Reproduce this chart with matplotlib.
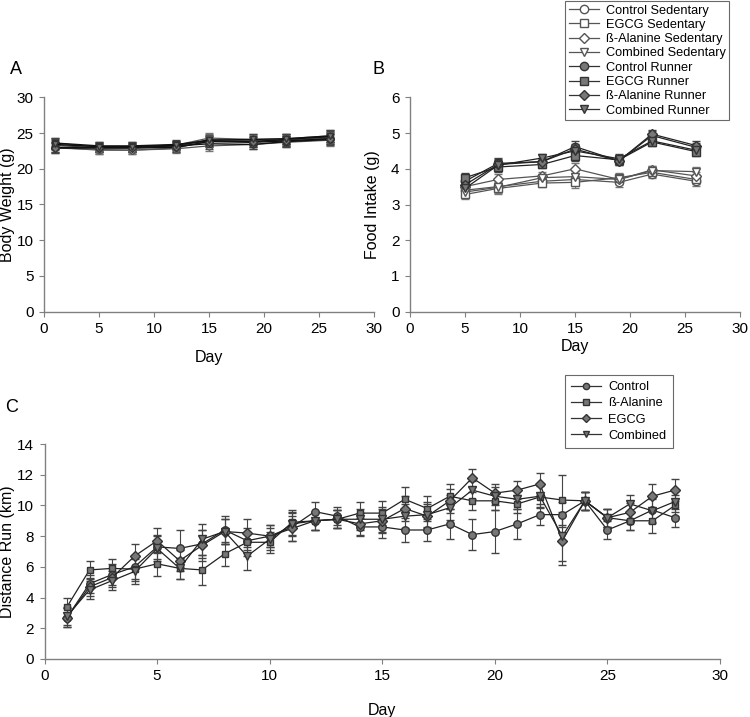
import numpy as np
import matplotlib.pyplot as plt
from matplotlib.lines import Line2D

plt.rcParams['font.family'] = ['Liberation Sans', 'DejaVu Sans']

# ---- Panel A: body weight ----
days_ab = [1, 5, 8, 12, 15, 19, 22, 26]
bw_names = ['Control Sedentary', 'EGCG Sedentary', 'ß-Alanine Sedentary', 'Combined Sedentary',
            'Control Runner', 'EGCG Runner', 'ß-Alanine Runner', 'Combined Runner']
bw_ctrl_sed = [23.0, 22.6, 22.6, 22.8, 23.2, 23.4, 23.7, 24.0]
bw_egcg_sed = [23.6, 23.0, 23.0, 23.3, 24.3, 24.1, 24.2, 24.6]
bw_ala_sed = [22.9, 22.7, 22.6, 22.9, 23.9, 23.9, 23.9, 24.3]
bw_comb_sed = [23.3, 22.9, 22.9, 23.1, 24.1, 24.0, 24.0, 24.4]
bw_ctrl_run = [23.0, 23.0, 23.0, 23.2, 23.5, 23.4, 23.8, 24.1]
bw_egcg_run = [23.6, 23.2, 23.2, 23.4, 23.9, 23.8, 24.1, 24.5]
bw_ala_run = [22.9, 22.9, 22.9, 23.0, 23.8, 23.7, 23.9, 24.2]
bw_comb_run = [23.4, 23.1, 23.1, 23.3, 24.0, 24.1, 24.2, 24.6]
bw_err = [0.7, 0.6, 0.6, 0.6, 0.7, 0.7, 0.7, 0.8]

# ---- Panel B: food intake ----
days_b = [5, 8, 12, 15, 19, 22, 26]
fi_ctrl_sed = [3.40, 3.50, 3.65, 3.70, 3.62, 3.85, 3.65]
fi_egcg_sed = [3.28, 3.45, 3.60, 3.62, 3.75, 3.90, 3.70]
fi_ala_sed = [3.50, 3.70, 3.80, 4.00, 3.70, 3.97, 3.80]
fi_comb_sed = [3.35, 3.48, 3.75, 3.78, 3.70, 3.95, 3.92]
fi_ctrl_run = [3.65, 4.15, 4.20, 4.62, 4.22, 4.93, 4.60]
fi_egcg_run = [3.75, 4.05, 4.12, 4.37, 4.25, 4.75, 4.48]
fi_ala_run = [3.55, 4.12, 4.20, 4.55, 4.22, 4.97, 4.65]
fi_comb_run = [3.45, 4.10, 4.30, 4.50, 4.28, 4.78, 4.52]
fi_err = [0.12, 0.15, 0.10, 0.15, 0.12, 0.12, 0.12]

# ---- Panel C: distance run ----
days_c = list(range(1, 29))
run_names = ['Control', 'ß-Alanine', 'EGCG', 'Combined']
run_ctrl = [2.7, 4.9, 5.5, 6.0, 7.3, 7.2, 7.5, 8.4, 7.7, 8.0, 8.6, 9.6, 9.3, 8.6,
            8.6, 8.4, 8.4, 8.8, 8.1, 8.3, 8.8, 9.4, 9.4, 10.3, 8.4, 9.0, 9.7, 9.2]
run_ala = [3.4, 5.8, 5.9, 5.85, 6.2, 5.9, 5.8, 6.85, 7.6, 7.6, 8.9, 9.0, 9.1, 9.5,
           9.5, 10.4, 9.8, 10.6, 10.3, 10.3, 10.1, 10.55, 10.35, 10.3, 9.2, 9.0, 9.0, 10.0]
run_egcg = [2.7, 4.7, 5.3, 6.7, 7.7, 6.4, 7.4, 8.3, 8.2, 8.0, 8.5, 9.0, 9.1, 8.8,
            9.0, 9.8, 9.3, 10.3, 11.8, 10.8, 11.0, 11.4, 7.7, 10.3, 9.2, 9.55, 10.6, 11.0]
run_comb = [2.8, 4.5, 5.1, 5.7, 7.2, 5.9, 7.8, 8.3, 6.7, 7.8, 8.8, 9.0, 9.1, 9.1,
            9.1, 9.3, 9.4, 9.85, 11.0, 10.6, 10.4, 10.6, 8.0, 10.3, 9.2, 10.1, 9.65, 10.25]
run_err_ctrl = [0.6, 0.6, 0.7, 0.8, 0.8, 1.2, 0.9, 0.9, 0.6, 0.7, 0.9, 0.6, 0.6, 0.6,
                0.7, 0.8, 0.7, 1.0, 1.0, 1.4, 1.0, 0.7, 0.8, 0.6, 0.6, 0.6, 0.8, 0.6]
run_err_other = [0.6, 0.6, 0.6, 0.8, 0.8, 0.7, 1.0, 0.8, 0.9, 0.7, 0.8, 0.6, 0.6, 0.7,
                 0.8, 0.8, 0.8, 0.8, 0.6, 0.6, 0.6, 0.7, 1.6, 0.6, 0.6, 0.6, 0.8, 0.7]

W, H = 750, 717
fig = plt.figure(figsize=(7.5, 7.17), dpi=100)


def ax_rect(x0, x1, ytop, ybot):
    return [x0 / W, 1 - ybot / H, (x1 - x0) / W, (ybot - ytop) / H]


def style(ax):
    for s in ['top', 'right']:
        ax.spines[s].set_visible(False)
    for s in ['left', 'bottom']:
        ax.spines[s].set_color('#808080')
        ax.spines[s].set_linewidth(1.0)
    ax.tick_params(direction='out', color='#808080', length=3.5, pad=4, labelsize=11)


fill_c = '#777777'
edge_c = '#333333'
markers = ['o', 's', 'D', 'v']
msizes = [6, 5.5, 5.2, 6]

axA = fig.add_axes(ax_rect(44, 374, 97.3, 311.7))
sed = [bw_ctrl_sed, bw_egcg_sed, bw_ala_sed, bw_comb_sed]
runs = [bw_ctrl_run, bw_egcg_run, bw_ala_run, bw_comb_run]
for i, vals in enumerate(sed):
    axA.errorbar(days_ab, vals, yerr=bw_err, color='#555555', lw=0.9, marker=markers[i], ms=msizes[i] - 1.2,
                 mfc='white', mec='#555555', ecolor='#777777', elinewidth=0.8, capsize=3)
for i, vals in enumerate(runs):
    axA.errorbar(days_ab, vals, yerr=bw_err, color='#111111', lw=1.0, marker=markers[i], ms=msizes[i] - 1.2,
                 mfc=fill_c, mec=edge_c, ecolor='#444444', elinewidth=0.8, capsize=3)
axA.set_xlim(0, 30)
axA.set_ylim(0, 30)
axA.set_xticks(range(0, 31, 5))
axA.set_yticks(range(0, 31, 5))
axA.set_xlabel('Day', fontsize=11.5, labelpad=10)
axA.set_ylabel('Body Weight (g)', fontsize=11.5)
axA.yaxis.set_label_coords(-0.088, 0.5)
style(axA)

axB = fig.add_axes(ax_rect(410, 740, 97.3, 311.7))
sed = [fi_ctrl_sed, fi_egcg_sed, fi_ala_sed, fi_comb_sed]
runs = [fi_ctrl_run, fi_egcg_run, fi_ala_run, fi_comb_run]
handles = []
for i, vals in enumerate(sed):
    axB.errorbar(days_b, vals, yerr=fi_err, color='#555555', lw=0.9, marker=markers[i], ms=msizes[i],
                 mfc='white', mec='#555555', ecolor='#777777', elinewidth=0.8, capsize=3)
    handles.append(Line2D([], [], color='#555555', lw=0.9, marker=markers[i], ms=msizes[i],
                          mfc='white', mec='#555555'))
for i, vals in enumerate(runs):
    axB.errorbar(days_b, vals, yerr=fi_err, color='#222222', lw=0.9, marker=markers[i], ms=msizes[i],
                 mfc=fill_c, mec=edge_c, ecolor='#444444', elinewidth=0.8, capsize=3)
    handles.append(Line2D([], [], color='#333333', lw=0.9, marker=markers[i], ms=msizes[i],
                          mfc=fill_c, mec=edge_c))
axB.set_xlim(0, 30)
axB.set_ylim(0, 6)
axB.set_xticks(range(0, 31, 5))
axB.set_yticks(range(0, 7))
axB.set_xlabel('Day', fontsize=11.5, labelpad=2)
axB.set_ylabel('Food Intake (g)', fontsize=11.5)
axB.yaxis.set_label_coords(-0.091, 0.5)
style(axB)
legB = fig.legend(handles, bw_names, loc='upper left', bbox_to_anchor=(564.7 / W, 1 - 0.7 / H),
                  fontsize=9.2, frameon=True, fancybox=False, handlelength=2.4, borderpad=0.3,
                  labelspacing=0.18, handletextpad=0.5, borderaxespad=0)
legB.get_frame().set_edgecolor('#444444')
legB.get_frame().set_linewidth(0.8)

axC = fig.add_axes(ax_rect(44.5, 720, 444, 659))
series = [run_ctrl, run_ala, run_egcg, run_comb]
errs = [run_err_ctrl, run_err_other, run_err_other, run_err_other]
handles = []
for i, vals in enumerate(series):
    axC.errorbar(days_c, vals, yerr=errs[i], color='#222222', lw=0.9, marker=markers[i], ms=msizes[i] - 0.6,
                 mfc=fill_c, mec=edge_c, ecolor='#444444', elinewidth=0.8, capsize=3)
    handles.append(Line2D([], [], color='#333333', lw=0.9, marker=markers[i], ms=4.5,
                          mfc=fill_c, mec=edge_c))
axC.set_xlim(0, 30)
axC.set_ylim(0, 14)
axC.set_xticks(range(0, 31, 5))
axC.set_yticks(range(0, 15, 2))
axC.set_xlabel('Day', fontsize=11.5, labelpad=14)
axC.set_ylabel('Distance Run (km)', fontsize=11.5)
axC.yaxis.set_label_coords(-0.044, 0.5)
style(axC)
legC = fig.legend(handles, run_names, loc='upper left', bbox_to_anchor=(565 / W, 1 - 375 / H),
                  fontsize=9.2, frameon=True, fancybox=False, handlelength=2.3, borderpad=0.5,
                  labelspacing=0.32, handletextpad=0.6, borderaxespad=0)
legC.get_frame().set_edgecolor('#444444')
legC.get_frame().set_linewidth(0.8)

fig.text(10 / W, 1 - 70 / H, 'A', fontsize=13, va='center')
fig.text(372 / W, 1 - 70 / H, 'B', fontsize=13, va='center')
fig.text(5 / W, 1 - 407 / H, 'C', fontsize=13, va='center')

fig.savefig('out.png', dpi=100)
